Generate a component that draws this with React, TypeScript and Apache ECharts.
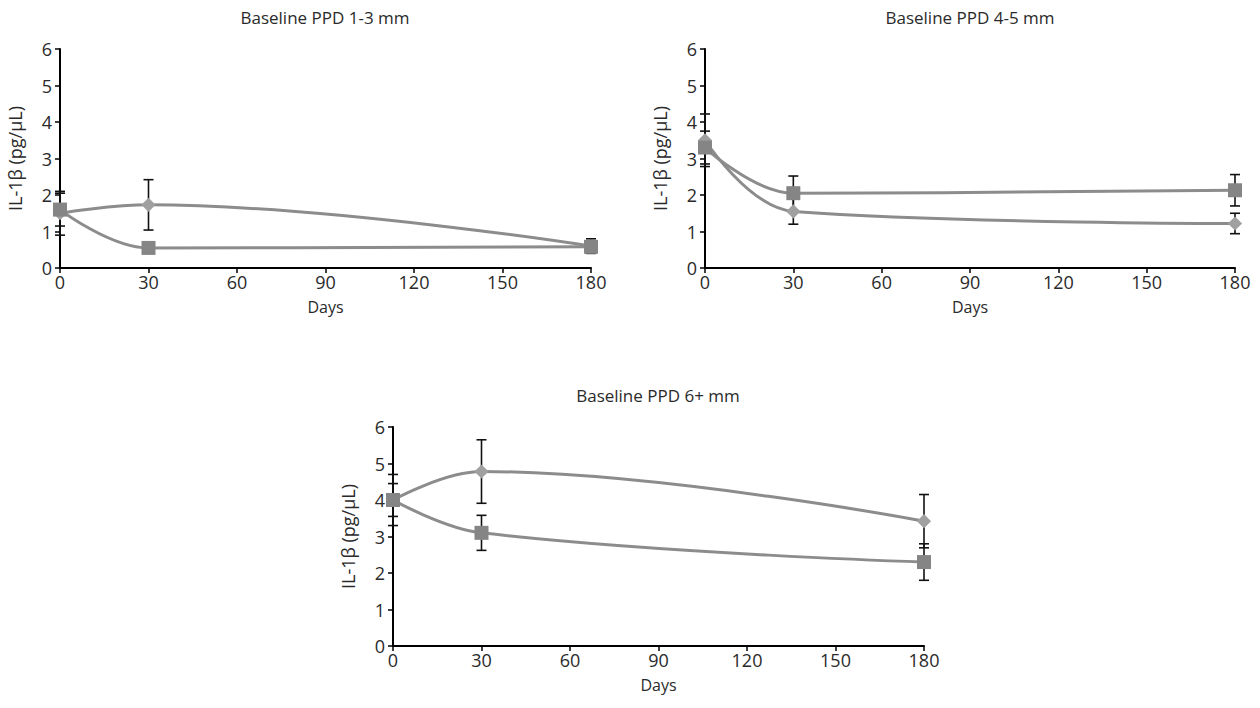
import React, { useEffect, useRef } from "react";
import * as echarts from "echarts";

const days = [0, 30, 180];
const titles = ["Baseline PPD 1-3 mm", "Baseline PPD 4-5 mm", "Baseline PPD 6+ mm"];
const yName = "IL-1β (pg/μL)";
const xName = "Days";

// Panel 1
const p1Diamond = [1.5, 1.73, 0.6];
const p1DiamondErr = [0.6, 0.69, 0.2];
const p1Square = [1.6, 0.55, 0.58];
const p1SquareErr = [0.45, 0.1, 0.1];
// Panel 2
const p2Diamond = [3.5, 1.55, 1.22];
const p2DiamondErr = [0.72, 0.35, 0.28];
const p2Square = [3.3, 2.05, 2.13];
const p2SquareErr = [0.45, 0.47, 0.43];
// Panel 3
const p3Diamond = [4.0, 4.78, 3.42];
const p3DiamondErr = [0.7, 0.87, 0.73];
const p3Square = [4.0, 3.1, 2.3];
const p3SquareErr = [0.45, 0.48, 0.5];

const panels = [
  { d: p1Diamond, de: p1DiamondErr, s: p1Square, se: p1SquareErr },
  { d: p2Diamond, de: p2DiamondErr, s: p2Square, se: p2SquareErr },
  { d: p3Diamond, de: p3DiamondErr, s: p3Square, se: p3SquareErr },
];

const FONT = "'Open Sans'";
const grids = [
  { left: 60, top: 49, width: 531, height: 219 },
  { left: 705, top: 49, width: 530, height: 219 },
  { left: 393, top: 427, width: 531, height: 219 },
];

export default function App() {
  const ref = useRef<HTMLDivElement>(null);
  useEffect(() => {
    if (!ref.current) return;
    const chart = echarts.init(ref.current, null, { renderer: "svg" });

    const series: any[] = [];
    panels.forEach((p, i) => {
      const errData = (vals: number[], errs: number[]) =>
        days.map((d, k) => [d, vals[k] - errs[k], vals[k] + errs[k]]);
      const errSeries = (vals: number[], errs: number[]) => ({
        type: "custom",
        xAxisIndex: i,
        yAxisIndex: i,
        z: 1,
        data: errData(vals, errs),
        renderItem: (params: any, api: any) => {
          const lo = api.coord([api.value(0), api.value(1)]);
          const hi = api.coord([api.value(0), api.value(2)]);
          const hw = 5;
          const st = { stroke: "#111", lineWidth: 1.6 };
          return {
            type: "group",
            children: [
              { type: "line", shape: { x1: lo[0], y1: lo[1], x2: hi[0], y2: hi[1] }, style: st },
              { type: "line", shape: { x1: lo[0] - hw, y1: lo[1], x2: lo[0] + hw, y2: lo[1] }, style: st },
              { type: "line", shape: { x1: hi[0] - hw, y1: hi[1], x2: hi[0] + hw, y2: hi[1] }, style: st },
            ],
          };
        },
      });
      series.push(errSeries(p.d, p.de));
      series.push(errSeries(p.s, p.se));
      series.push({
        type: "line",
        xAxisIndex: i,
        yAxisIndex: i,
        z: 3,
        smooth: 0.4,
        data: days.map((d, k) => [d, p.d[k]]),
        lineStyle: { color: "#8c8c8c", width: 3 },
        symbol: "rect",
        symbolSize: 10,
        symbolRotate: 45,
        itemStyle: { color: "#a0a0a0" },
      });
      series.push({
        type: "line",
        xAxisIndex: i,
        yAxisIndex: i,
        z: 4,
        smooth: 0.4,
        data: days.map((d, k) => [d, p.s[k]]),
        lineStyle: { color: "#8c8c8c", width: 3 },
        symbol: "rect",
        symbolSize: 14,
        itemStyle: { color: "#858585" },
      });
    });

    const axisLine = { show: true, onZero: false, lineStyle: { color: "#000", width: 2 } };
    const axisTick = { show: true, length: 5, lineStyle: { color: "#000", width: 1.5 } };
    const label = { color: "#2a2a2a", fontSize: 18, fontFamily: FONT, lineHeight: 18 };

    chart.setOption({
      animation: false,
      grid: grids.map((g) => ({ ...g, containLabel: false })),
      xAxis: grids.map((_, i) => ({
        type: "value",
        gridIndex: i,
        min: 0,
        max: 180,
        interval: 30,
        axisLine,
        axisTick,
        splitLine: { show: false },
        axisLabel: { ...label, margin: 5 },
        name: xName,
        nameLocation: "middle",
        nameGap: 31,
        nameTextStyle: { color: "#2a2a2a", fontSize: 16, fontFamily: FONT, lineHeight: 16 },
      })),
      yAxis: grids.map((_, i) => ({
        type: "value",
        gridIndex: i,
        min: 0,
        max: 6,
        interval: 1,
        axisLine,
        axisTick,
        splitLine: { show: false },
        axisLabel: { ...label, margin: 8 },
        name: yName,
        nameLocation: "middle",
        nameGap: 36,
        nameTextStyle: { color: "#2a2a2a", fontSize: 18, fontFamily: FONT },
      })),
      graphic: [
        { x: 325, y: 17, t: titles[0] },
        { x: 970, y: 17, t: titles[1] },
        { x: 658, y: 395, t: titles[2] },
      ].map((o) => ({
        type: "text",
        x: o.x,
        y: o.y,
        style: {
          text: o.t,
          fill: "#2a2a2a",
          font: `17px ${FONT}`,
          textAlign: "center",
          textVerticalAlign: "middle",
        },
      })),
      series,
    });
    return () => chart.dispose();
  }, []);
  return (
    <div
      ref={ref}
      style={{ position: "fixed", left: 0, top: 0, width: 1260, height: 708, background: "#fff" }}
    />
  );
}
